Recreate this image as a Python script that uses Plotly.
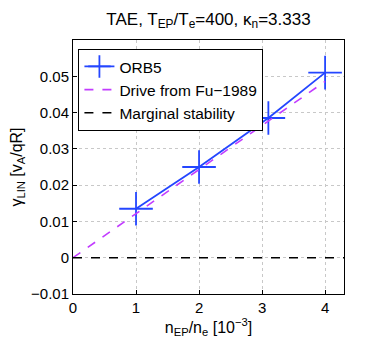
import plotly.graph_objects as go

# ORB5 growth rates
n_ep = [1, 2, 3.1, 4]
gamma_orb5 = [0.0135, 0.025, 0.0385, 0.051]

# Fu-1989 drive (analytical line)
n_fu = [0, 1, 2, 3, 4]
gamma_fu = [0, 0.0121, 0.0243, 0.0364, 0.0486]

# marginal stability
n_marg = [0, 4.3]
gamma_marg = [0, 0]

fig = go.Figure()
fig.add_trace(go.Scatter(x=n_ep, y=gamma_orb5, mode="lines+markers", name="ORB5",
                         line=dict(color="#2446ff", width=1.8),
                         marker=dict(symbol="cross-thin", size=24, line=dict(color="#2446ff", width=1.8))))
fig.add_trace(go.Scatter(x=n_fu, y=gamma_fu, mode="lines", name="Drive from Fu\u22121989",
                         line=dict(color="#c23cff", width=1.6, dash="dash")))
fig.add_trace(go.Scatter(x=n_marg, y=gamma_marg, mode="lines", name="Marginal stability",
                         line=dict(color="black", width=1.6, dash="dash")))

axis_common = dict(showline=True, linecolor="black", linewidth=1, mirror=True,
                   ticks="inside", ticklen=4, tickcolor="black",
                   showgrid=True, gridcolor="#c8c8c8", griddash="dot", gridwidth=1,
                   zeroline=False, tickfont=dict(size=15, color="black"), automargin=False)

fig.update_xaxes(range=[0, 4.3], tickvals=[0, 1, 2, 3, 4],
                 title=dict(text="n<sub>EP</sub>/n<sub>e</sub> [10<sup>\u22123</sup>]", font=dict(size=16), standoff=2),
                 **axis_common)
fig.update_yaxes(range=[-0.01, 0.06], tickvals=[-0.01, 0, 0.01, 0.02, 0.03, 0.04, 0.05],
                 ticktext=["\u22120.01", "0", "0.01", "0.02", "0.03", "0.04", "0.05"],
                 title=dict(text="\u03b3<sub>LIN</sub> [v<sub>A</sub>/qR]", font=dict(size=16), standoff=4),
                 **axis_common)

# page body adds 8px offset, so the figure is 8px smaller and margins shifted
fig.update_layout(
    width=372, height=335,
    margin=dict(l=65, r=36, t=32, b=49),
    paper_bgcolor="white", plot_bgcolor="white",
    font=dict(family="Liberation Sans, Arial, sans-serif", size=15, color="black"),
    title=dict(text="TAE, T<sub>EP</sub>/T<sub>e</sub>=400, \u03ba<sub>n</sub>=3.333",
               x=0.5, xref="paper", xanchor="center", y=0.985, yanchor="top", font=dict(size=17)),
    legend=dict(x=0.02, y=0.965, xanchor="left", yanchor="top",
                bordercolor="black", borderwidth=1, bgcolor="white",
                font=dict(size=15.5), tracegroupgap=0, itemwidth=30),
    showlegend=True,
)

fig.write_html("out.html")
